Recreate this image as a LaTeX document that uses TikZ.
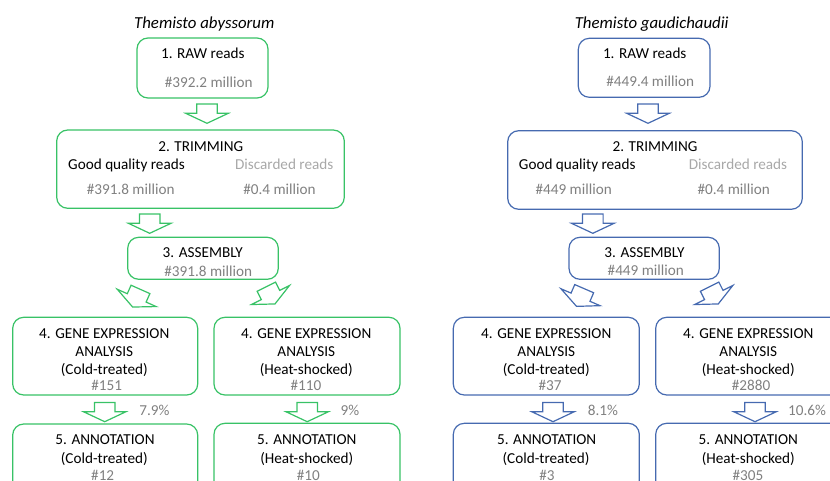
\documentclass[tikz,border=0pt]{standalone}
\usepackage{fontspec}
\setmainfont{Carlito}
\usetikzlibrary{fit}
\definecolor{tgreen}{RGB}{56,194,102}
\definecolor{tblue}{RGB}{70,106,176}
\definecolor{numgray}{RGB}{128,128,128}
\definecolor{discgray}{RGB}{168,168,168}
\newcommand\fs{\fontsize{15.2}{18}\selectfont}
\newcommand\fst{\fontsize{16.8}{20}\selectfont}
\newcommand\mybox[6]{\node[#6, fit={(#2,-#3) (#4,-#5)}] (#1) {};}
\newcommand\mytext[5]{\node[#5] (#1) at ({#2},{-#3-5}) {#4};}
\tikzset{
  txt/.style={anchor=base, inner sep=0pt, font=\fs, text=black},
  num/.style={txt, text=numgray},
  disc/.style={txt, text=discgray},
  ttl/.style={txt, font=\fst\itshape},
  gbox/.style={draw=tgreen, line width=1.2pt, rounded corners=11pt, inner sep=0pt},
  bbox/.style={draw=tblue, line width=1.2pt, rounded corners=11pt, inner sep=0pt},
  blockarrow/.pic={\draw[line width=1.2pt, line join=miter, #1]
    (-10.3,9.3) -- (10.3,9.3) -- (10.3,0) -- (21.3,0) -- (0,-10) -- (-21.3,0) -- (-10.3,0) -- cycle;}
}
\begin{document}
\begin{tikzpicture}[x=1pt,y=1pt]
\useasboundingbox (0,0) rectangle (830,-481);
\clip (0,0) rectangle (830,-481);
% ---------------- left: Themisto abyssorum (green)
\mytext{gt}{204.3}{23.3}{Themisto abyssorum}{ttl}
\mybox{g1}{137}{38}{268}{98}{gbox}
\mytext{g1a}{202.8}{54}{1. RAW reads}{txt}
\mytext{g1b}{208.8}{82.3}{\#392.2 million}{num}
\pic (ga1) at (207,-113.3) {blockarrow=tgreen};
\mybox{g2}{56.7}{130}{344.3}{208.3}{gbox}
\mytext{g2a}{200.8}{146.7}{2. TRIMMING}{txt}
\mytext{g2b}{126.5}{165}{Good quality reads}{txt}
\mytext{g2c}{284.2}{165}{Discarded reads}{disc}
\mytext{g2d}{130.7}{190}{\#391.8 million}{num}
\mytext{g2e}{279.5}{190}{\#0.4 million}{num}
\pic (ga2) at (149.7,-223.3) {blockarrow=tgreen};
\mybox{g3}{127.7}{237.3}{278.3}{279.3}{gbox}
\mytext{g3a}{202.8}{252.7}{3. ASSEMBLY}{txt}
\mytext{g3b}{208.3}{271.7}{\#391.8 million}{num}
\pic[rotate=-24] (ga3) at (136.7,-297.9) {blockarrow=tgreen};
\pic[rotate=26.6] (ga4) at (270.5,-295) {blockarrow=tgreen};
\mybox{g4}{12.7}{317.3}{197.7}{395}{gbox}
\mytext{g4a}{104.3}{333.3}{4. GENE EXPRESSION}{txt}
\mytext{g4b}{104.3}{351.7}{ANALYSIS}{txt}
\mytext{g4c}{104.3}{369.3}{(Cold-treated)}{txt}
\mytext{g4d}{106.7}{385}{\#151}{num}
\mybox{g5}{214}{317.3}{400}{395}{gbox}
\mytext{g5a}{306.3}{333.3}{4. GENE EXPRESSION}{txt}
\mytext{g5b}{306.3}{351.7}{ANALYSIS}{txt}
\mytext{g5c}{306.3}{369.3}{(Heat-shocked)}{txt}
\mytext{g5d}{306}{385}{\#110}{num}
\pic (ga5) at (104.7,-411.7) {blockarrow=tgreen};
\mytext{gp1}{154.5}{410}{7.9\%}{num}
\pic (ga6) at (307.2,-411.7) {blockarrow=tgreen};
\mytext{gp2}{350}{410}{9\%}{num}
\mybox{g6}{12.7}{424}{197.7}{502}{gbox}
\mytext{g6a}{105}{439.3}{5. ANNOTATION}{txt}
\mytext{g6b}{104.3}{458.3}{(Cold-treated)}{txt}
\mytext{g6c}{102.7}{475}{\#12}{num}
\mybox{g7}{214}{423.3}{400}{502}{gbox}
\mytext{g7a}{306.8}{439.3}{5. ANNOTATION}{txt}
\mytext{g7b}{306.8}{458.3}{(Heat-shocked)}{txt}
\mytext{g7c}{308.3}{475}{\#10}{num}
% ---------------- right: Themisto gaudichaudii (blue)
\mytext{bt}{651.7}{23.3}{Themisto gaudichaudii}{ttl}
\mybox{b1}{578.3}{38.3}{710}{97.3}{bbox}
\mytext{b1a}{644.7}{54}{1. RAW reads}{txt}
\mytext{b1b}{650.2}{81.7}{\#449.4 million}{num}
\pic (ba1) at (648,-113.3) {blockarrow=tblue};
\mybox{b2}{507.7}{130.7}{802.3}{209.3}{bbox}
\mytext{b2a}{655}{146.7}{2. TRIMMING}{txt}
\mytext{b2b}{577.2}{165}{Good quality reads}{txt}
\mytext{b2c}{738}{165}{Discarded reads}{disc}
\mytext{b2d}{573.7}{190}{\#449 million}{num}
\mytext{b2e}{733.7}{190}{\#0.4 million}{num}
\pic (ba2) at (592.8,-223.3) {blockarrow=tblue};
\mybox{b3}{569}{237.3}{719.3}{279.3}{bbox}
\mytext{b3a}{644.5}{252.7}{3. ASSEMBLY}{txt}
\mytext{b3b}{645.8}{271}{\#449 million}{num}
\pic[rotate=-23.4] (ba3) at (580.5,-297.2) {blockarrow=tblue};
\pic[rotate=26.6] (ba4) at (713.8,-295) {blockarrow=tblue};
\mybox{b4}{453.3}{317.3}{639.3}{395}{bbox}
\mytext{b4a}{546.3}{333.3}{4. GENE EXPRESSION}{txt}
\mytext{b4b}{546.3}{351.7}{ANALYSIS}{txt}
\mytext{b4c}{546.3}{369.3}{(Cold-treated)}{txt}
\mytext{b4d}{550}{385}{\#37}{num}
\mybox{b5}{655.7}{317.3}{841.7}{395}{bbox}
\mytext{b5a}{748.3}{333.3}{4. GENE EXPRESSION}{txt}
\mytext{b5b}{748.3}{351.7}{ANALYSIS}{txt}
\mytext{b5c}{748.3}{369.3}{(Heat-shocked)}{txt}
\mytext{b5d}{751}{385}{\#2880}{num}
\pic (ba5) at (553,-411.7) {blockarrow=tblue};
\mytext{bp1}{603}{410}{8.1\%}{num}
\pic (ba6) at (755,-411.7) {blockarrow=tblue};
\mytext{bp2}{807}{410}{10.6\%}{num}
\mybox{b6}{453.3}{423.3}{639.3}{502}{bbox}
\mytext{b6a}{546.7}{439.3}{5. ANNOTATION}{txt}
\mytext{b6b}{546}{458.3}{(Cold-treated)}{txt}
\mytext{b6c}{547}{475}{\#3}{num}
\mybox{b7}{655.7}{423.3}{841.7}{502}{bbox}
\mytext{b7a}{748.3}{439.3}{5. ANNOTATION}{txt}
\mytext{b7b}{748.3}{458.3}{(Heat-shocked)}{txt}
\mytext{b7c}{748}{475}{\#305}{num}
\end{tikzpicture}
\end{document}
